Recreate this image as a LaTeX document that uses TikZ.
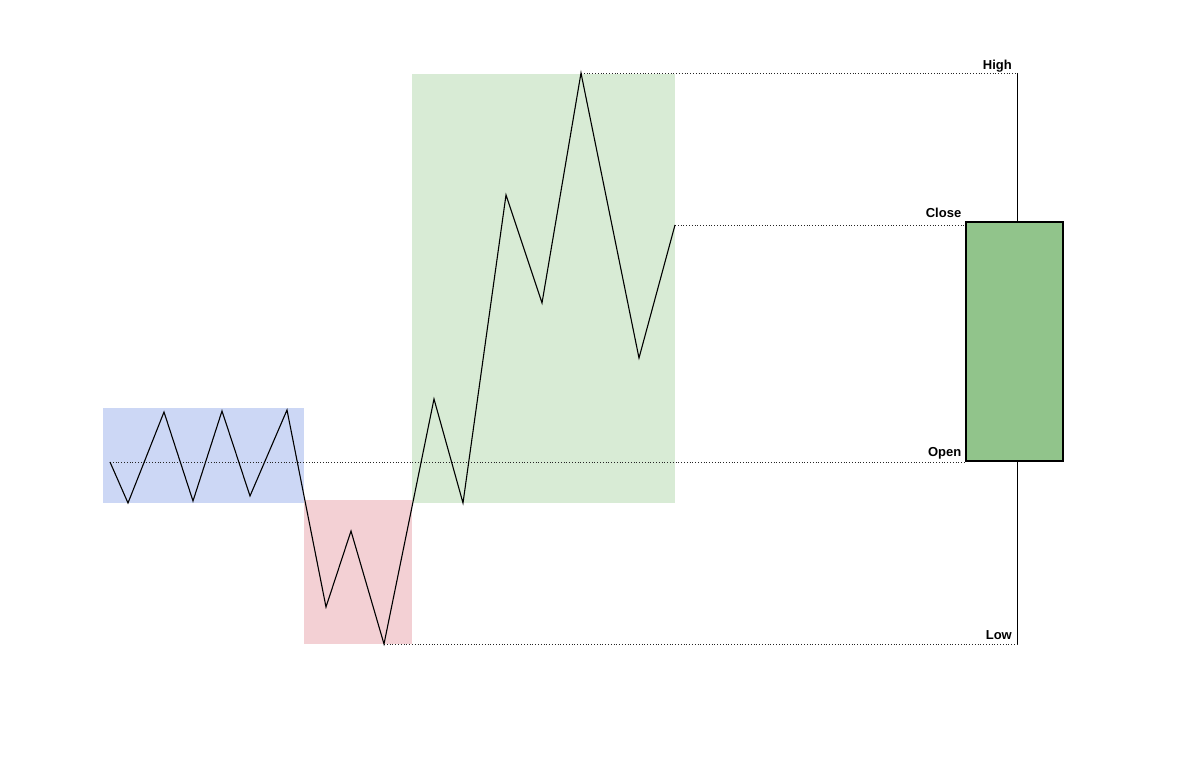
\documentclass[tikz,border=0pt]{standalone}
\usepackage{fontspec}
\setmainfont{Liberation Sans}
\usepackage{tikz}
\usetikzlibrary{positioning}
\definecolor{rangeblue}{RGB}{204,215,245}
\definecolor{dropred}{RGB}{243,208,212}
\definecolor{risegreen}{RGB}{216,235,213}
\definecolor{candlegreen}{RGB}{145,196,139}
\tikzstyle{level} = [dotted, 
line width=0.8pt, 
black!85]
\tikzstyle{price} = [line width=1.1pt, 
black, 
line join=miter]
\tikzstyle{candle} = [rectangle, 
draw=black, 
line width=1.1pt, 
fill=candlegreen, 
minimum width=97pt, 
minimum height=239pt, 
inner sep=0pt]
\tikzstyle{wick} = [line width=1pt, black]
\tikzstyle{lbl} = [font=\bfseries\fontsize{13}{15}\selectfont, 
anchor=base east, 
inner sep=0pt]

\begin{document}
\begin{tikzpicture}[x=1pt,y=-1pt]
\useasboundingbox (0,0) rectangle (1200,775);

% zones
\fill[rangeblue] (103,408) rectangle (304,503);
\fill[dropred] (304,500) rectangle (412,644);
\fill[risegreen] (412,74) rectangle (675,503);

% price path
\foreach \i/\x/\y in {0/110/462, 1/128/503, 2/164/412, 3/193/501, 4/222/411,
  5/250/496, 6/287/410, 7/326/607, 8/351/531, 9/384/644, 10/434/399,
  11/463/503, 12/506/195, 13/542/303, 14/581/73, 15/639/358, 16/675/225}
  \coordinate (p\i) at (\x,\y);

% candle
\node (body) [candle] at (1014.5,341.5) {};
\coordinate (hi) at (1017,73);
\coordinate (lo) at (1017,644);

\draw [level] (p0) -- (p0 -| body.west);
\draw [level] (p16) -- (p16 -| body.west);
\draw [level] (p14) -- (hi);
\draw [level] (p9) -- (lo);

\draw [price] (p0) \foreach \i in {1,...,16} { -- (p\i) };

\draw [wick] (hi) -- (hi |- body.north);
\draw [wick] (lo) -- (lo |- body.south);

\node (high) [lbl] at ([xshift=-5pt,yshift=3pt]hi) {High};
\node (close) [lbl] at ([xshift=-4pt,yshift=4pt]body.north west) {Close};
\node (open) [lbl] at ([xshift=-4pt,yshift=5pt]body.south west) {Open};
\node (low) [lbl] at ([xshift=-5pt,yshift=5pt]lo) {Low};
\end{tikzpicture}
\end{document}
